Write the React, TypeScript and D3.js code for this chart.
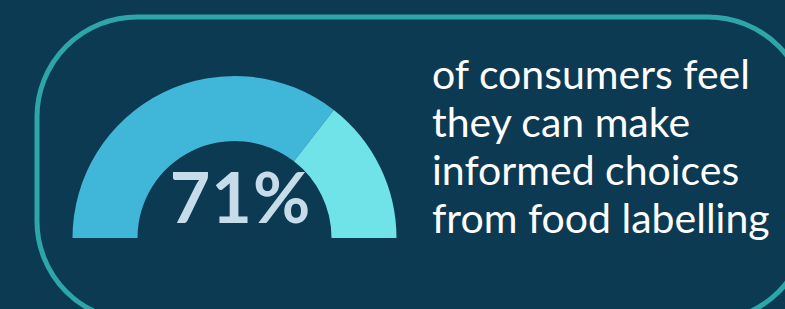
import React, { useEffect, useRef } from 'react';
import { select, pie, arc, scaleLinear } from 'd3';

const shares = [71, 29];
const shareColors = ['#40b6d8', '#70e3e8'];
const headline = '71%';
const captionLines = ['of consumers feel', 'they can make', 'informed choices', 'from food labelling'];

const W = 785;
const H = 309;

export default function App() {
  const svgRef = useRef<SVGSVGElement>(null);

  useEffect(() => {
    if (!svgRef.current) return;
    const svg = select(svgRef.current);
    svg.selectAll('*').remove();

    svg.append('rect').attr('width', W).attr('height', H).attr('fill', '#0c3a53');

    // rounded frame, runs off the right and bottom edges
    svg.append('rect')
      .attr('x', 37).attr('y', 17)
      .attr('width', 771).attr('height', 304)
      .attr('rx', 100).attr('ry', 100)
      .attr('fill', 'none')
      .attr('stroke', '#2ca6a8')
      .attr('stroke-width', 5);

    // gauge
    const cx = 234.5, cy = 238;
    const g = svg.append('g').attr('transform', `translate(${cx},${cy})`);
    const pieGen = pie<number>().value(d => d).sort(null)
      .startAngle(-Math.PI / 2).endAngle(Math.PI / 2);
    const arcGen = arc<any>().innerRadius(97).outerRadius(162);
    g.selectAll('path')
      .data(pieGen(shares))
      .enter()
      .append('path')
      .attr('d', arcGen)
      .attr('fill', (_, i) => shareColors[i]);

    g.append('text')
      .attr('x', 6)
      .attr('y', -15)
      .attr('text-anchor', 'middle')
      .attr('font-family', 'Lato, sans-serif')
      .attr('font-weight', 700)
      .attr('font-size', 70)
      .attr('letter-spacing', 1)
      .attr('fill', '#c6dceb')
      .text(headline);

    // caption
    const y = scaleLinear().domain([0, captionLines.length - 1]).range([89, 233]);
    svg.append('g')
      .selectAll('text')
      .data(captionLines)
      .enter()
      .append('text')
      .attr('x', 432)
      .attr('y', (_, i) => y(i))
      .attr('font-family', 'Lato, sans-serif')
      .attr('font-size', 41)
      .attr('fill', '#ffffff')
      .text(d => d);
  }, []);

  return (
    <div style={{ position: 'fixed', left: 0, top: 0, width: W, height: H }}>
      <svg ref={svgRef} width={W} height={H} style={{ display: 'block' }} />
    </div>
  );
}
